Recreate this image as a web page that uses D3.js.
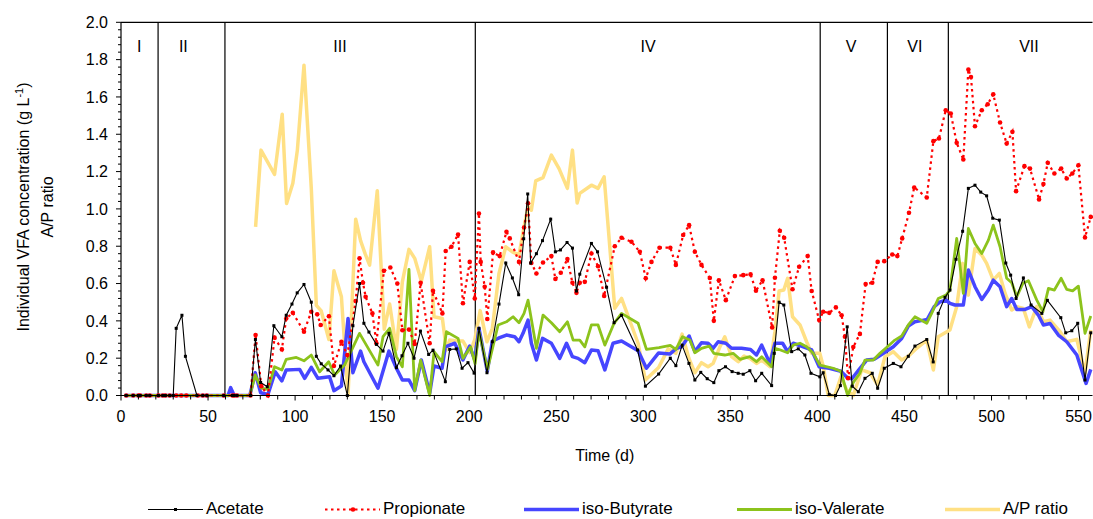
<!DOCTYPE html>
<html>
<head>
<meta charset="utf-8">
<script src="https://cdn.jsdelivr.net/npm/d3@7"></script>
<style>
html,body{margin:0;padding:0;background:#fff;}
svg text{font-family:"Liberation Sans",Arial,sans-serif;fill:#000;}
</style>
</head>
<body>
<svg id="chart" width="1093" height="519"></svg>
<script>
// ---------------- DATA ----------------
const xTickValues = [0,50,100,150,200,250,300,350,400,450,500,550];
const yTickValues = [0,0.2,0.4,0.6,0.8,1.0,1.2,1.4,1.6,1.8,2.0];
const phaseBounds = [21.3, 59.7, 203.5, 401.6, 440.2, 475.2];
const phaseLabels = ["I","II","III","IV","V","VI","VII"];
const phaseLabelDays = [10.5, 35.8, 125.8, 302.7, 419.3, 456, 521.5];

const acetateDays = [3,7,10,11,14.5,16.5,21.5,24,25.5,28,30,31.7,35,37,43.6,47,49.3,59,64,65,66.6,74.4,
 77.2,80.2,84,87.8,92.4,94.9,98.2,101.2,105.1,109.3,112.2,115,118.9,122.3,126.1,130,133.2,137,139.5,142.4,146.7,150.5,153.9,158.2,161.4,164.8,168.3,172,176.7,179.2,186.3,188.8,192.6,195.9,199.3,202.8,
 205.6,210.2,213.3,217.1,221,224.8,228.4,231.3,233.6,235.3,238.6,242.1,246.8,249.5,252.4,256.2,259.3,261.6,263.5,270.2,273.7,278.9,283.2,287.5,296.7,301.2,308.8,315.5,318.7,322.3,326.2,329.6,333,336.7,340.5,343.4,347.2,351,354.5,357.4,361.2,364.5,368,373.7,375.2,378,380.7,385.2,389,392.8,396.3,401.4,403.3,406.8,410.4,413.2,417.1,420,423.5,
 427.3,431.5,434.6,438.4,443.6,448,452.2,456,462.8,466.5,469.4,473.3,476.1,479.6,483.4,486.7,490.5,493.8,497.2,500.7,504.5,508.2,511,514.1,518.3,522.7,528.9,532.1,539.8,542.6,546.1,549.5,553.7,557];
const acetate = [0,0,0,0,0,0,0,0,0,0,0,0.36,0.43,0.21,0,0,0,0,0,0,0,0,
 0.30,0.07,0.047,0.374,0.315,0.43,0.49,0.55,0.595,0.50,0.21,0.17,0.137,0.106,0.158,0.0,0.374,0.60,0.387,0.34,0.274,0.238,0.333,0.149,0.213,0.28,0.20,0.345,0.22,0.243,0.074,0.247,0.25,0.146,0.176,0.12,
 0.36,0.122,0.288,0.49,0.71,0.63,0.54,0.84,1.08,0.71,0.76,0.83,0.945,0.77,0.78,0.82,0.79,0.56,0.65,0.815,0.77,0.58,0.39,0.43,0.244,0.05,0.115,0.2,0.16,0.27,0.172,0.083,0.124,0.09,0.069,0.133,0.154,0.128,0.119,0.114,0.133,0.079,0.119,0.053,0.226,0.50,0.485,0.235,0.25,0.217,0.119,0.10,0.122,0.006,0,0.053,0.368,0.05,0.02,
 0.092,0.119,0.039,0.146,0.172,0.154,0.21,0.265,0.30,0.18,0.44,0.526,0.565,0.73,0.88,1.11,1.127,1.09,1.07,0.95,0.94,0.71,0.645,0.52,0.63,0.485,0.44,0.51,0.417,0.336,0.347,0.387,0.083,0.336];

const propionateDays = [3,7,10,11,14.5,16.5,21.5,24,25.5,28,31.7,34.6,37.5,44.1,47,49.3,59,64,65,66.6,74.4,
 77.3,80.6,84.4,88.2,92.4,94.9,98.7,105.1,109.3,112.7,114.7,119.4,122.3,126.6,130,134.8,137,139,140.5,144.4,146.7,151,154.7,158.7,161.6,165.4,168.7,172.1,177.3,179.2,184.6,186.5,189.8,193.6,196.4,200.3,203.2,
 205.6,206.6,208.9,210.4,213.7,217.5,221.4,223.3,228.6,231.5,233.8,235.7,238.6,242.4,247.2,249.5,252.6,256.4,259.3,261.6,263.5,266.4,270.2,274,277.5,283.6,287.5,293.2,298,301.4,304.7,309.3,315.5,318.7,322.9,326.3,329.6,333.4,338.2,340.5,343.4,347.4,352.6,357.4,361.6,364.7,368.5,374,375.6,378.4,380.9,385.7,389.5,394.4,396.7,401,
 403.3,406.8,410.6,413.9,415.8,417.6,420.6,424.4,427.7,431.5,434.6,438.4,443,445.9,448.7,452.6,455.6,462.8,466.6,469.8,473.7,476.6,480,483.8,486.7,488.2,490.5,494.4,497.8,501,504.9,508.7,512,514.1,518.9,522.1,527.3,529.8,532.3,536.1,540,543.2,546.4,549.9,553.7,557];
const propionate = [0,0,0,0,0,0,0,0,0,0,0,0,0,0,0,0,0,0,0,0,0,
 0.324,0.05,0,0.31,0.247,0.413,0.443,0.342,0.449,0.435,0.378,0.425,0.158,0.288,0.217,0.506,0.735,0.604,0.529,0.44,0.28,0.668,0.686,0.60,0.35,0.354,0.276,0.604,0.28,0.561,0.44,0.774,0.797,0.863,0.494,0.716,0.52,
 0.975,0.716,0.583,0.41,0.767,0.747,0.877,0.842,0.716,0.90,1.03,0.71,0.654,0.713,0.747,0.624,0.658,0.731,0.604,0.55,0.604,0.609,0.761,0.693,0.533,0.80,0.845,0.824,0.77,0.628,0.716,0.792,0.792,0.70,0.86,0.913,0.77,0.70,0.63,0.40,0.618,0.511,0.64,0.645,0.649,0.561,0.618,0.365,0.631,0.883,0.845,0.569,0.69,0.747,0.56,0.404,
 0.449,0.443,0.472,0.43,0.315,0.093,0.26,0.33,0.597,0.604,0.716,0.72,0.756,0.747,0.842,0.979,1.115,1.061,1.363,1.377,1.529,1.511,1.354,1.265,1.747,1.707,1.443,1.529,1.561,1.614,1.463,1.35,1.413,1.095,1.229,1.216,1.051,1.133,1.247,1.19,1.216,1.163,1.19,1.234,0.847,0.957];

const isoButyrateDays = [2,60,61.5,63,65,74,77.1,80.2,84.4,88.6,92.4,94.9,102.6,105.5,109.3,113.1,119.8,122.3,126.6,130.4,133.2,137.6,139.5,147.6,153.9,158.2,161.6,165.4,168.7,172.5,177.3,179.8,184.4,186.3,191.7,196.4,200.3,203.2,
 205.6,210.4,213.3,217.5,221.4,226.1,228.6,230.9,233.8,235.7,238.6,242.1,247.2,252,255.9,259.3,262.5,266.4,270.2,274,277.9,282.6,287.5,297,301.8,308.8,315.2,319.1,322,326.3,329.6,333.4,337.2,340.1,343,347.4,350.7,356.4,361.6,365,368,372.7,375.6,380,382.9,386.1,391.9,396.7,401,
 406.8,413.5,417.2,419.8,424,428.3,432.6,438.4,443.6,448.4,452.2,456,458.9,463.1,467.1,470.4,473.9,476.1,479,483.8,486.7,490.5,494.4,498.2,501,504.9,508.7,511.6,514.5,519.3,523.1,526.9,529.8,533.6,538.4,543.2,549,554.3,557];
const isoButyrate = [0,0,0,0.042,0,0,0.122,0.015,0.006,0.127,0.078,0.137,0.14,0.092,0.151,0.092,0.10,0.026,0.051,0.413,0.122,0.238,0.181,0.039,0.238,0.146,0.083,0.083,0.026,0.19,0.012,0.158,0.146,0.261,0.28,0.19,0.265,0.19,
 0.36,0.13,0.292,0.31,0.324,0.315,0.288,0.333,0.404,0.28,0.19,0.306,0.28,0.199,0.28,0.208,0.199,0.176,0.244,0.24,0.137,0.28,0.292,0.24,0.146,0.228,0.222,0.253,0.261,0.319,0.235,0.283,0.28,0.253,0.288,0.28,0.253,0.253,0.247,0.217,0.27,0.172,0.28,0.28,0.235,0.28,0.261,0.244,0.154,
 0.146,0.13,0.095,0.09,0.14,0.19,0.194,0.229,0.261,0.306,0.372,0.395,0.40,0.408,0.476,0.502,0.511,0.494,0.485,0.485,0.672,0.583,0.515,0.565,0.618,0.583,0.476,0.52,0.461,0.461,0.476,0.431,0.378,0.386,0.324,0.288,0.217,0.065,0.14];

const isoValerateDays = [2,74,77.1,80.6,84.4,88.2,92.4,94.9,100.7,105.1,109.3,114.1,119.3,122.7,128.4,137,147.6,150.5,154.3,158.2,161.6,165.4,168.7,172.1,177.3,179.8,184.4,186.9,193.6,196.4,200.8,203.4,
 205.6,210.5,216.6,221.4,225.2,228.6,231.5,233.8,238.6,242.4,247.2,252,256.4,259.7,263.5,266.4,270.2,274,277.9,283.2,287.5,297,301.8,309,315.5,318.7,322.5,326.7,329.6,333.4,337.8,340.5,346.8,351.6,355.5,361.2,365,368,373.7,375.6,378.4,382.9,386.1,390,393.8,397.6,401.4,
 409.1,413.4,417.4,420.6,424.4,427.3,432.1,435.9,440.7,444.5,448.4,452.2,456,462.8,465.6,469.4,473.9,476.1,480,483.8,486.7,490.5,494.4,498.2,501,504.9,508.7,511.6,514.5,518,521.2,526,529.5,532.7,536.1,540,543.2,546.6,549.9,553.7,557];
const isoValerate = [0,0,0.11,0.039,0.033,0.154,0.137,0.194,0.204,0.186,0.217,0.127,0.181,0.11,0.163,0.333,0.163,0.315,0.36,0.208,0.154,0.676,0.026,0.19,0,0.235,0.181,0.342,0.306,0.199,0.26,0.17,
 0.342,0.14,0.378,0.395,0.422,0.39,0.44,0.511,0.253,0.431,0.39,0.342,0.395,0.297,0.297,0.261,0.378,0.378,0.27,0.387,0.44,0.387,0.247,0.257,0.268,0.247,0.315,0.297,0.229,0.253,0.265,0.226,0.217,0.226,0.194,0.208,0.181,0.208,0.154,0.253,0.245,0.229,0.27,0.28,0.261,0.226,0.163,
 0.146,0.13,0,0.07,0.119,0.19,0.19,0.226,0.265,0.297,0.319,0.378,0.422,0.387,0.44,0.52,0.538,0.565,0.842,0.547,0.895,0.815,0.761,0.833,0.913,0.797,0.628,0.604,0.529,0.601,0.615,0.511,0.449,0.574,0.565,0.628,0.569,0.561,0.586,0.333,0.426];

const apRatioDays = [77.3,80.4,88.2,92.6,95.1,98.7,101.3,105.1,109.3,112.2,115,119.4,122.3,126.6,130.4,134.8,137.6,140.2,142.8,147.2,151.2,154.3,158.2,161.6,165.4,168.7,172.5,177.3,179.8,184.6,186.9,188.8,193.6,196.4,200.3,203.2,
 206.3,210.2,213.3,217.1,221,224.8,228.6,231.5,233.8,235.7,238.2,242.4,247.2,251.6,256.4,259.3,262,263.5,270.2,274,277.5,283.6,287.5,297,301.2,308.8,314.3,318.7,322.3,326.2,329.6,333.4,337.2,340.1,344,346.8,350.7,354.5,357.9,361.2,365,368,372.7,375.6,378,380.7,382.9,385.7,390,393.8,396.7,401.4,
 403.3,406.2,410,413.5,416.8,420.6,425.4,430.2,434.6,438.8,443.6,448.4,452.2,457,462.8,466.6,469.4,476.1,480,483.4,486.7,490.5,494.4,497.2,501,504.5,507.8,511.6,514.5,518.3,521.7,526,529.8,533.6,539.4,543.2,549,553.7,557];
const apRatio = [0.904,1.315,1.185,1.507,1.029,1.138,1.315,1.77,1.11,0.483,0.453,0.30,0.668,0.529,0,0.945,0.83,0.76,0.699,1.097,0.355,0.49,0.247,0.609,0.783,0.735,0.613,0.797,0.422,0.413,0.244,0.297,0.292,0.292,0.23,0.3,
 0.455,0.288,0.36,0.654,0.797,0.77,0.752,0.904,1.011,0.993,1.15,1.168,1.288,1.216,1.11,1.315,1.032,1.083,1.127,1.11,1.172,0.467,0.52,0.28,0.083,0.15,0.25,0.226,0.329,0.199,0.122,0.176,0.154,0.172,0.261,0.315,0.208,0.181,0.211,0.199,0.172,0.19,0.154,0.342,0.56,0.565,0.628,0.422,0.378,0.288,0.226,0.226,
 0.158,0,0,0.1,0.03,0,0.137,0.122,0.056,0.208,0.235,0.19,0.21,0.253,0.297,0.137,0.315,0.351,0.476,0.708,0.538,0.788,0.752,0.708,0.618,0.654,0.547,0.458,0.476,0.467,0.368,0.476,0.395,0.404,0.342,0.288,0.301,0.119,0.351];

const seriesNames = ["Acetate","Propionate","iso-Butyrate","iso-Valerate","A/P ratio"];

// ---------------- CHART ----------------
const svg = d3.select("#chart");
const pL = 121, pR = 1092.5, pT = 22.3, pB = 395.5;
const x = d3.scaleLinear().domain([0, 558]).range([pL, pR]);
const y = d3.scaleLinear().domain([0, 2]).range([pB, pT]);

// top frame line
svg.append("line").attr("x1", pL).attr("x2", pR).attr("y1", pT).attr("y2", pT)
  .attr("stroke", "#000").attr("stroke-width", 1.2);

// phase separators
svg.append("g").selectAll("line").data(phaseBounds).join("line")
  .attr("x1", d => x(d)).attr("x2", d => x(d))
  .attr("y1", pT).attr("y2", pB)
  .attr("stroke", "#000").attr("stroke-width", 1.2);

svg.append("g").selectAll("text").data(phaseLabels).join("text")
  .attr("x", (d, i) => x(phaseLabelDays[i])).attr("y", 52)
  .attr("text-anchor", "middle").attr("font-size", 16).text(d => d);

// series
const mk = (days, vals) => days.map((d, i) => ({ d, v: vals[i] }));
const line = d3.line().x(p => x(p.d)).y(p => y(p.v));

const colors = { ace: "#000000", pro: "#ff0000", but: "#4646ff", val: "#8cc31c", ap: "#ffe084" };

const gData = svg.append("g");
gData.append("path").datum(mk(apRatioDays, apRatio)).attr("d", line)
  .attr("fill", "none").attr("stroke", colors.ap).attr("stroke-width", 3.5).attr("stroke-linejoin", "round");
gData.append("path").datum(mk(isoButyrateDays, isoButyrate)).attr("d", line)
  .attr("fill", "none").attr("stroke", colors.but).attr("stroke-width", 3.5).attr("stroke-linejoin", "round");
gData.append("path").datum(mk(isoValerateDays, isoValerate)).attr("d", line)
  .attr("fill", "none").attr("stroke", colors.val).attr("stroke-width", 2.8).attr("stroke-linejoin", "round");

const proData = mk(propionateDays, propionate);
gData.append("path").datum(proData).attr("d", line)
  .attr("fill", "none").attr("stroke", colors.pro).attr("stroke-width", 2.2).attr("stroke-dasharray", "2.5,3.5");
gData.append("g").selectAll("circle").data(proData).join("circle")
  .attr("cx", p => x(p.d)).attr("cy", p => y(p.v)).attr("r", 2.3).attr("fill", colors.pro);

const aceData = mk(acetateDays, acetate);
gData.append("path").datum(aceData).attr("d", line)
  .attr("fill", "none").attr("stroke", colors.ace).attr("stroke-width", 1.1);
gData.append("g").selectAll("rect").data(aceData).join("rect")
  .attr("x", p => x(p.d) - 1.5).attr("y", p => y(p.v) - 1.5).attr("width", 3).attr("height", 3).attr("fill", colors.ace);

// axes
const xAxis = svg.append("g").attr("transform", `translate(0,${pB})`);
xAxis.append("line").attr("x1", pL).attr("x2", pR).attr("stroke", "#000").attr("stroke-width", 1.2);
xAxis.selectAll("line.minor").data(d3.range(0, 558, 10)).join("line").attr("class", "minor")
  .attr("x1", d => x(d)).attr("x2", d => x(d)).attr("y1", 0).attr("y2", d => d % 50 === 0 ? 5 : 4)
  .attr("stroke", "#000").attr("stroke-width", 1);
xAxis.selectAll("text").data(xTickValues).join("text")
  .attr("x", d => x(d)).attr("y", 26).attr("text-anchor", "middle").attr("font-size", 16).text(d => d);

const yAxis = svg.append("g");
yAxis.append("line").attr("x1", pL).attr("x2", pL).attr("y1", pT).attr("y2", pB).attr("stroke", "#000").attr("stroke-width", 1.2);
yAxis.selectAll("line.t").data(d3.range(0, 51).map(i => i * 0.04)).join("line").attr("class", "t")
  .attr("x1", pL).attr("x2", (d, i) => i % 5 === 0 ? pL - 5 : pL - 3)
  .attr("y1", d => y(d)).attr("y2", d => y(d)).attr("stroke", "#000").attr("stroke-width", 1);
yAxis.selectAll("text").data(yTickValues).join("text")
  .attr("x", 108).attr("y", d => y(d)).attr("dy", "0.36em").attr("text-anchor", "end").attr("font-size", 16)
  .text(d => d3.format(".1f")(d));

// axis titles
svg.append("text").attr("x", (pL + pR) / 2 - 2).attr("y", 461).attr("text-anchor", "middle")
  .attr("font-size", 16).text("Time (d)");

const yt = svg.append("text").attr("transform", "translate(29,207) rotate(-90)")
  .attr("text-anchor", "middle").attr("font-size", 16);
yt.append("tspan").text("Individual VFA concentration (g L");
yt.append("tspan").attr("dy", -6).attr("font-size", 11).text("-1");
yt.append("tspan").attr("dy", 6).text(")");
svg.append("text").attr("transform", "translate(53,207) rotate(-90)")
  .attr("text-anchor", "middle").attr("font-size", 16).text("A/P ratio");

// legend
const legX = [148, 325, 524, 737, 945];
const legY = 509.5;
const leg = svg.append("g");
const styles = [
  { c: colors.ace, w: 1.1, dash: null, marker: "rect" },
  { c: colors.pro, w: 2.2, dash: "2.5,3.5", marker: "circle" },
  { c: colors.but, w: 3.5, dash: null, marker: null },
  { c: colors.val, w: 2.8, dash: null, marker: null },
  { c: colors.ap, w: 3.5, dash: null, marker: null }
];
seriesNames.forEach((name, i) => {
  const s = styles[i];
  const x0 = legX[i];
  const l = leg.append("line").attr("x1", x0).attr("x2", x0 + 55).attr("y1", legY).attr("y2", legY)
    .attr("stroke", s.c).attr("stroke-width", s.w);
  if (s.dash) l.attr("stroke-dasharray", s.dash);
  if (s.marker === "rect") leg.append("rect").attr("x", x0 + 26).attr("y", legY - 1.5).attr("width", 3).attr("height", 3).attr("fill", s.c);
  if (s.marker === "circle") leg.append("circle").attr("cx", x0 + 28).attr("cy", legY).attr("r", 2.3).attr("fill", s.c);
  leg.append("text").attr("x", x0 + 58).attr("y", legY + 4.5).attr("font-size", 17).text(name);
});
</script>
</body>
</html>
